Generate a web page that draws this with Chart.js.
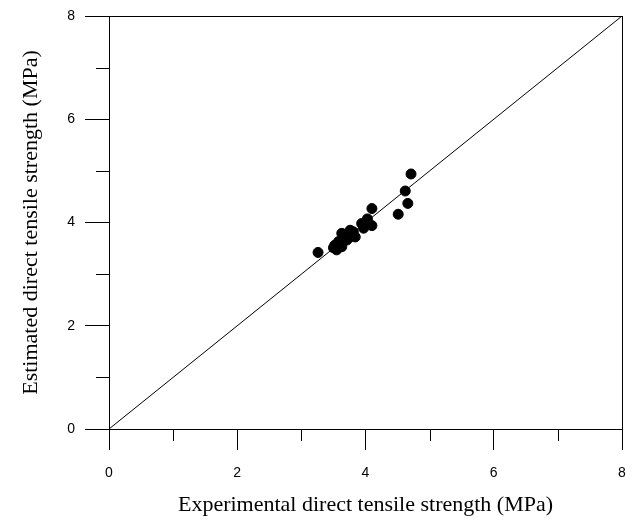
<!DOCTYPE html>
<html>
<head>
<meta charset="utf-8">
<script src="https://cdn.jsdelivr.net/npm/chart.js@4"></script>
<style>
  html, body { margin: 0; padding: 0; background: #fff; }
  #wrap { width: 634px; height: 521px; }
</style>
</head>
<body>
<div id="wrap"><canvas id="g1"></canvas></div>
<script>
// measured vs estimated direct tensile strength (MPa)
var experimental = [3.26, 3.50, 3.52, 3.55, 3.58, 3.63, 3.63, 3.65, 3.71, 3.76, 3.76, 3.81, 3.84, 3.94, 3.97, 4.03, 4.10, 4.10, 4.51, 4.62, 4.66, 4.71];
var estimated    = [3.42, 3.51, 3.56, 3.47, 3.63, 3.79, 3.53, 3.63, 3.66, 3.85, 3.72, 3.82, 3.72, 3.98, 3.89, 4.07, 4.27, 3.94, 4.16, 4.61, 4.37, 4.94];
var lineEnds = [0, 8];
var majorTicks = [0, 2, 4, 6, 8];
var minorTicks = [1, 3, 5, 7];

var points = experimental.map(function (x, i) { return {x: x, y: estimated[i]}; });
var diag = lineEnds.map(function (v) { return {x: v, y: v}; });

// box round the plot + short minor ticks
var frame = {
    id: 'frame',
    afterDraw: function (chart) {
        var ctx = chart.ctx, a = chart.chartArea;
        var sx = chart.scales.x, sy = chart.scales.y;
        ctx.save();
        ctx.strokeStyle = '#000';
        ctx.lineWidth = 1;
        ctx.strokeRect(a.left + 0.5, a.top + 0.5, a.right - a.left, a.bottom - a.top);
        ctx.beginPath();
        minorTicks.forEach(function (v) {
            var px = Math.round(sx.getPixelForValue(v)) + 0.5;
            ctx.moveTo(px, a.bottom);
            ctx.lineTo(px, a.bottom + 12);
            var py = Math.round(sy.getPixelForValue(v)) + 0.5;
            ctx.moveTo(a.left, py);
            ctx.lineTo(a.left - 13, py);
        });
        ctx.stroke();
        ctx.restore();
    }
};

new Chart(document.getElementById('g1'), {
    type: 'scatter',
    data: {
        datasets: [
            {
                label: 'data',
                data: points,
                backgroundColor: '#000',
                borderColor: '#000',
                pointRadius: 5,
                pointHoverRadius: 5
            },
            {
                label: '1:1',
                data: diag,
                showLine: true,
                borderColor: '#000',
                borderWidth: 1,
                pointRadius: 0
            }
        ]
    },
    options: {
        responsive: true,
        maintainAspectRatio: false,
        animation: false,
        layout: { autoPadding: false, padding: { top: 16, right: 12, left: 8, bottom: 3 } },
        plugins: { legend: { display: false }, tooltip: { enabled: false } },
        scales: {
            x: {
                type: 'linear',
                min: 0, max: 8,
                afterBuildTicks: function (s) { s.ticks = majorTicks.map(function (v) { return {value: v}; }); },
                afterFit: function (s) { s.height = 89; s.paddingLeft = 0; s.paddingRight = 0; },
                grid: { drawOnChartArea: false, tickLength: 21, tickColor: '#000' },
                border: { color: '#000' },
                ticks: { color: '#000', padding: 15, maxRotation: 0, font: { family: 'Liberation Sans', size: 14 } },
                title: {
                    display: true,
                    text: 'Experimental direct tensile strength (MPa)',
                    color: '#000',
                    padding: { top: 10, bottom: 0 },
                    font: { family: 'Liberation Serif', size: 22 }
                }
            },
            y: {
                type: 'linear',
                min: 0, max: 8,
                afterBuildTicks: function (s) { s.ticks = majorTicks.map(function (v) { return {value: v}; }); },
                afterFit: function (s) { s.width = 101; s.paddingTop = 0; s.paddingBottom = 0; },
                grid: { drawOnChartArea: false, tickLength: 24, tickColor: '#000' },
                border: { color: '#000' },
                ticks: { color: '#000', padding: 10, font: { family: 'Liberation Sans', size: 14 } },
                title: {
                    display: true,
                    text: 'Estimated direct tensile strength (MPa)',
                    color: '#000',
                    padding: { top: 10, bottom: 22 },
                    font: { family: 'Liberation Serif', size: 22 }
                }
            }
        }
    },
    plugins: [frame]
});
</script>
</body>
</html>
